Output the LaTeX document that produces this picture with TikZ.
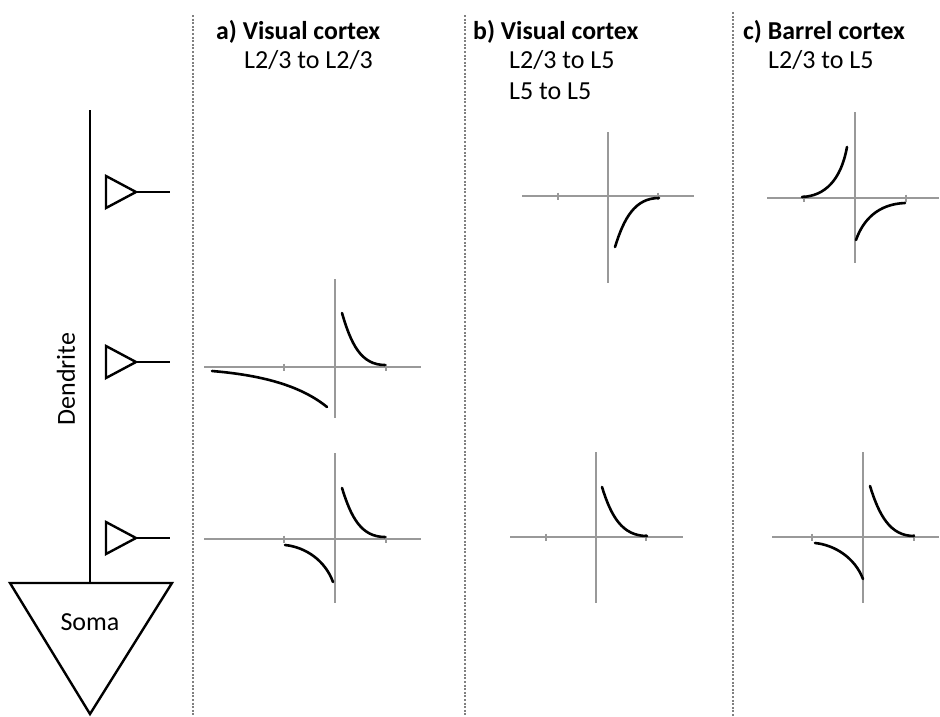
\documentclass[tikz,border=0pt]{standalone}
\usepackage{fontspec}
\setmainfont{Carlito}
\begin{document}
\begin{tikzpicture}[x=1pt,y=-1pt,
  font=\fontsize{26}{30}\selectfont,
  cell/.style={line width=2.4pt,black,line join=miter},
  sep/.style={line width=1.8pt,black!50,dash pattern=on 2pt off 1.6pt},
  ax/.style={line width=1.4pt,black!40},
  tk/.style={line width=1.2pt,black!40},
  resp/.style={line width=2.6pt,black,line cap=round},
  ttl/.style={anchor=base west,inner sep=0pt,font=\fontsize{25.8}{30}\selectfont\bfseries},
  sub/.style={anchor=base west,inner sep=0pt}]
\useasboundingbox (0,0) rectangle (940,716);

% ---- neuron: dendrite, soma and three synapses ----
\coordinate (dtop) at (90,110);
\coordinate (dbot) at (90,583);
\draw[cell] (dtop) -- (dbot);
\draw[cell] (10,583) -- (172,583) -- (90,714) -- cycle;
\node (soma) at (90,622) {Soma};
\node[rotate=90] (dendrite) at (66,379) {Dendrite};
\foreach \y/\n in {192/s1,362/s2,538/s3}{
  \draw[cell] (106,\y-16) -- (106,\y+16) -- (136,\y) -- cycle;
  \coordinate (\n) at (170,\y);
  \draw[cell] (136,\y) -- (\n);
}

% ---- column separators ----
\foreach \x/\t in {193/15,465/15,733/12}
  \draw[sep] (\x,\t) -- (\x,716);

% ---- column headings ----
\node[ttl] (ta) at (216,39) {a) Visual cortex};
\node[sub] (ta1) at (244,68) {L2/3 to L2/3};
\node[ttl] (tb) at (473,39) {b) Visual cortex};
\node[sub] (tb1) at (509,68) {L2/3 to L5};
\node[sub] (tb2) at (509,99) {L5 to L5};
\node[ttl] (tc) at (743,39) {c) Barrel cortex};
\node[sub] (tc1) at (768,68) {L2/3 to L5};

% ---- axes: {x left}{x right}{origin x}{origin y}{y top}{y bottom}{tick offset} ----
\newcommand{\plotaxes}[7]{%
  \draw[ax] (#1,#4) -- (#2,#4);
  \draw[ax] (#3,#5) -- (#3,#6);
  \draw[tk] (#3-#7,#4-3.5) -- (#3-#7,#4+3.5);
  \draw[tk] (#3+#7,#4-3.5) -- (#3+#7,#4+3.5);
}

% a) middle
\plotaxes{204}{421}{335}{367}{279}{418}{51}
\draw[resp] (342,313) .. controls (351,344) and (361,365) .. (385,365);
\draw[resp] (212,371) .. controls (260,375) and (300,385) .. (327,407);
% a) bottom
\plotaxes{204}{421}{335}{539}{453}{603}{51}
\draw[resp] (342,488) .. controls (351,517) and (361,537) .. (385,537);
\draw[resp] (285,545) .. controls (305,547) and (325,560) .. (333,582);

% b) top
\plotaxes{522}{694}{608}{196}{132}{283}{50}
\draw[resp] (615,247) .. controls (624,218) and (635,198) .. (659,198);
% b) bottom
\plotaxes{510}{683}{596}{537}{452}{603}{50}
\draw[resp] (602,487) .. controls (611,516) and (622,536) .. (647,536);

% c) top
\plotaxes{767}{939}{855}{198}{112}{263}{51}
\draw[resp] (802,197) .. controls (825,196) and (841,180) .. (847,147);
\draw[resp] (856,240) .. controls (863,220) and (878,204) .. (905,203);
% c) bottom
\plotaxes{772}{939}{863}{537}{452}{603}{51}
\draw[resp] (870,486) .. controls (879,515) and (890,536) .. (914,536);
\draw[resp] (815,543) .. controls (835,545) and (855,558) .. (863,579);
\end{tikzpicture}
\end{document}
